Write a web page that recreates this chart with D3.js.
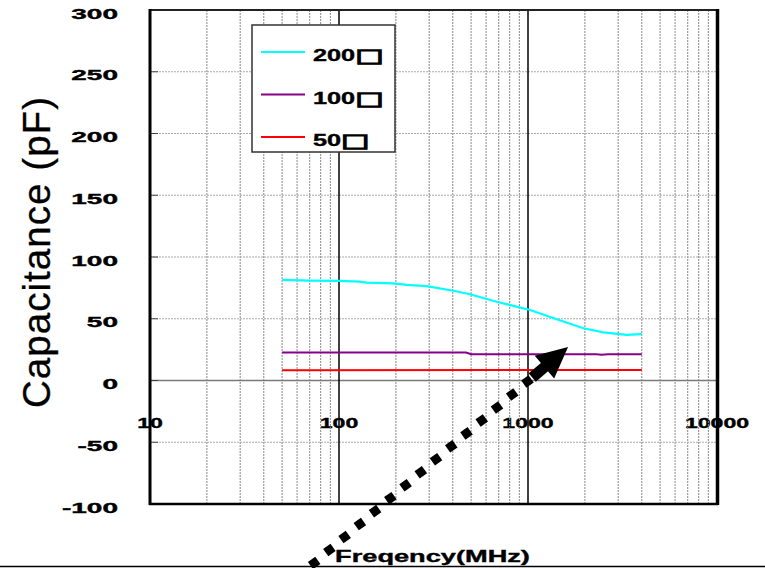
<!DOCTYPE html>
<html><head><meta charset="utf-8">
<script src="https://cdn.jsdelivr.net/npm/d3@7"></script>
<style>body{margin:0;background:#fff}svg{display:block}</style>
</head><body>
<svg id="c" width="765" height="568"></svg>
<script>
// ---- data ----
const yTicks = [-100, -50, 0, 50, 100, 150, 200, 250, 300];
const xTicks = [10, 100, 1000, 10000];
const xTickLabels = ["10", "100", "1000", "10000"];
const seriesNums = ["200", "100", "50"];
const unitGlyph = "\u25A1";
const seriesColors = ["#00FFFF", "#880088", "#FF0000"];
const freq200 = [50, 70, 100, 129, 140, 194, 228, 291, 403, 493, 683, 1026, 1420, 1963, 2505, 3330, 4000];
const cap200  = [81.4, 80.8, 80.6, 80.1, 79.3, 78.7, 77.4, 76.4, 72.7, 69.8, 63.8, 57.1, 49.6, 42.3, 39.0, 37.0, 37.5];
const freq100 = [50, 470, 500, 2300, 2450, 2650, 4000];
const cap100  = [22.6, 22.6, 21.3, 21.3, 20.8, 21.3, 21.3];
const freq50  = [50, 4000];
const cap50   = [8.4, 8.5];
// annotation arrow (data units)
const arrowTail = [73.8, -147.8];
const arrowTip  = [1629, 27.1];

const svg = d3.select("#c");
const FONT = "'Liberation Sans', Arial, sans-serif";
const x = d3.scaleLog().domain([10, 10000]).range([150, 717]);
const y = d3.scaleLinear().domain([-100, 300]).range([504, 10]);

svg.append("rect").attr("width", 765).attr("height", 568).attr("fill", "#fff");

const boldText = (sel) => sel.attr("font-family", FONT).attr("font-weight", "bold")
  .attr("fill", "#000").attr("stroke", "#000").attr("stroke-width", 0.35);

// x tick labels (inside plot, under gridlines)
xTicks.forEach((t, i) => {
  svg.append("g").attr("transform", `translate(${x(t)},428) scale(1.65,1)`)
    .append("text").attr("text-anchor", "middle").attr("font-size", 14)
    .call(boldText).text(xTickLabels[i]);
});

// grid
const minor = [];
[10, 100, 1000].forEach(d => { for (let k = 2; k <= 9; k++) minor.push(d * k); });
const grid = svg.append("g");
grid.selectAll("line.mv").data(minor).join("line")
  .attr("x1", d => x(d)).attr("x2", d => x(d)).attr("y1", y(300)).attr("y2", y(-100))
  .attr("stroke", "#888").attr("stroke-width", 1).attr("stroke-dasharray", "2,1");
grid.selectAll("line.hz").data(yTicks.filter(v => v !== 0)).join("line")
  .attr("x1", x(10)).attr("x2", x(10000)).attr("y1", d => y(d)).attr("y2", d => y(d))
  .attr("stroke", "#aaa").attr("stroke-width", 1).attr("stroke-dasharray", "2,1");
grid.append("line").attr("x1", x(10)).attr("x2", x(10000)).attr("y1", y(0)).attr("y2", y(0))
  .attr("stroke", "#7a7a7a").attr("stroke-width", 1.5);
grid.selectAll("line.dec").data([100, 1000]).join("line")
  .attr("x1", d => x(d)).attr("x2", d => x(d)).attr("y1", y(300)).attr("y2", y(-100))
  .attr("stroke", "#000").attr("stroke-width", 1.5);
grid.selectAll("line.yt").data(yTicks).join("line")
  .attr("x1", x(10)).attr("x2", x(10) + 8).attr("y1", d => y(d)).attr("y2", d => y(d))
  .attr("stroke", "#444").attr("stroke-width", 1);

// y tick labels
yTicks.forEach(t => {
  svg.append("g").attr("transform", `translate(118,${y(t) + 8.5}) scale(2,1)`)
    .append("text").attr("text-anchor", "end").attr("font-size", 14)
    .call(boldText).text(t);
});

// series
const line = d3.line().x(d => x(d[0])).y(d => y(d[1]));
const series = [
  d3.zip(freq200, cap200),
  d3.zip(freq100, cap100),
  d3.zip(freq50, cap50)
];
series.forEach((s, i) => {
  svg.append("path").datum(s).attr("d", line).attr("fill", "none")
    .attr("stroke", seriesColors[i]).attr("stroke-width", i === 0 ? 2.2 : 2);
});

// legend
const lg = svg.append("g");
lg.append("rect").attr("x", 252).attr("y", 25).attr("width", 143).attr("height", 127)
  .attr("fill", "#fff").attr("stroke", "#333").attr("stroke-width", 1.5);
const lineYs = [52, 94.5, 137];
seriesNums.forEach((n, i) => {
  lg.append("line").attr("x1", 261).attr("x2", 305).attr("y1", lineYs[i]).attr("y2", lineYs[i])
    .attr("stroke", seriesColors[i]).attr("stroke-width", 2);
  const t = lg.append("g").attr("transform", `translate(313,${lineYs[i] + 9}) scale(1.58,1)`)
    .append("text").attr("font-size", 16).call(boldText);
  t.append("tspan").text(n);
  t.append("tspan").attr("font-family", "'DejaVu Sans', sans-serif").attr("font-size", 19)
    .attr("stroke-width", 1.3).attr("dy", 1).text(unitGlyph);
});

// frame
svg.append("line").attr("x1", 149).attr("x2", 718).attr("y1", 10).attr("y2", 10).attr("stroke", "#222").attr("stroke-width", 2);
svg.append("line").attr("x1", 149).attr("x2", 718).attr("y1", 504).attr("y2", 504).attr("stroke", "#000").attr("stroke-width", 2.5);
svg.append("line").attr("x1", 150).attr("x2", 150).attr("y1", 9).attr("y2", 505).attr("stroke", "#000").attr("stroke-width", 3);
svg.append("line").attr("x1", 717.5).attr("x2", 717.5).attr("y1", 9).attr("y2", 505).attr("stroke", "#000").attr("stroke-width", 3.5);

// axis titles
svg.append("g").attr("transform", "translate(432.5,561.5) scale(1.7,1)")
  .append("text").attr("text-anchor", "middle").attr("font-size", 16)
  .call(boldText).text("Freqency(MHz)");
svg.append("text").attr("transform", "translate(50,252.5) rotate(-90)")
  .attr("text-anchor", "middle").attr("font-family", FONT).attr("font-size", 38.5)
  .attr("textLength", 311).attr("lengthAdjust", "spacing")
  .attr("fill", "#000").attr("stroke", "#000").attr("stroke-width", 0.3)
  .text("Capacitance (pF)");

// bottom rule
svg.append("line").attr("x1", 0).attr("x2", 765).attr("y1", 566.5).attr("y2", 566.5)
  .attr("stroke", "#000").attr("stroke-width", 1.5);

// arrow annotation
const T = [x(arrowTip[0]), y(arrowTip[1])];
const P = [x(arrowTail[0]), y(arrowTail[1])];
const L = Math.hypot(T[0] - P[0], T[1] - P[1]);
const u = [(T[0] - P[0]) / L, (T[1] - P[1]) / L];
const nrm = [-u[1], u[0]];
const ang = Math.atan2(u[1], u[0]) * 180 / Math.PI;
const at = (o, dist) => [o[0] + u[0] * dist, o[1] + u[1] * dist];
const B = at(T, -31);
const dots = [];
for (let dd = 53.3; dd <= L + 25; dd += 20) dots.push(at(T, -dd));
svg.append("g").selectAll("rect").data(dots).join("rect")
  .attr("x", -4.5).attr("y", -4.5).attr("width", 9).attr("height", 9)
  .attr("transform", d => `translate(${d[0]},${d[1]}) rotate(${ang + 5})`)
  .attr("fill", "#000");
const s1 = at(B, 2), s2 = at(B, -16);
svg.append("line").attr("x1", s1[0]).attr("y1", s1[1]).attr("x2", s2[0]).attr("y2", s2[1])
  .attr("stroke", "#000").attr("stroke-width", 11);
svg.append("path").attr("d", d3.line()([
  T,
  [B[0] + nrm[0] * 15, B[1] + nrm[1] * 15],
  [B[0] - nrm[0] * 15, B[1] - nrm[1] * 15]
]) + "Z").attr("fill", "#000");
</script>
</body></html>
